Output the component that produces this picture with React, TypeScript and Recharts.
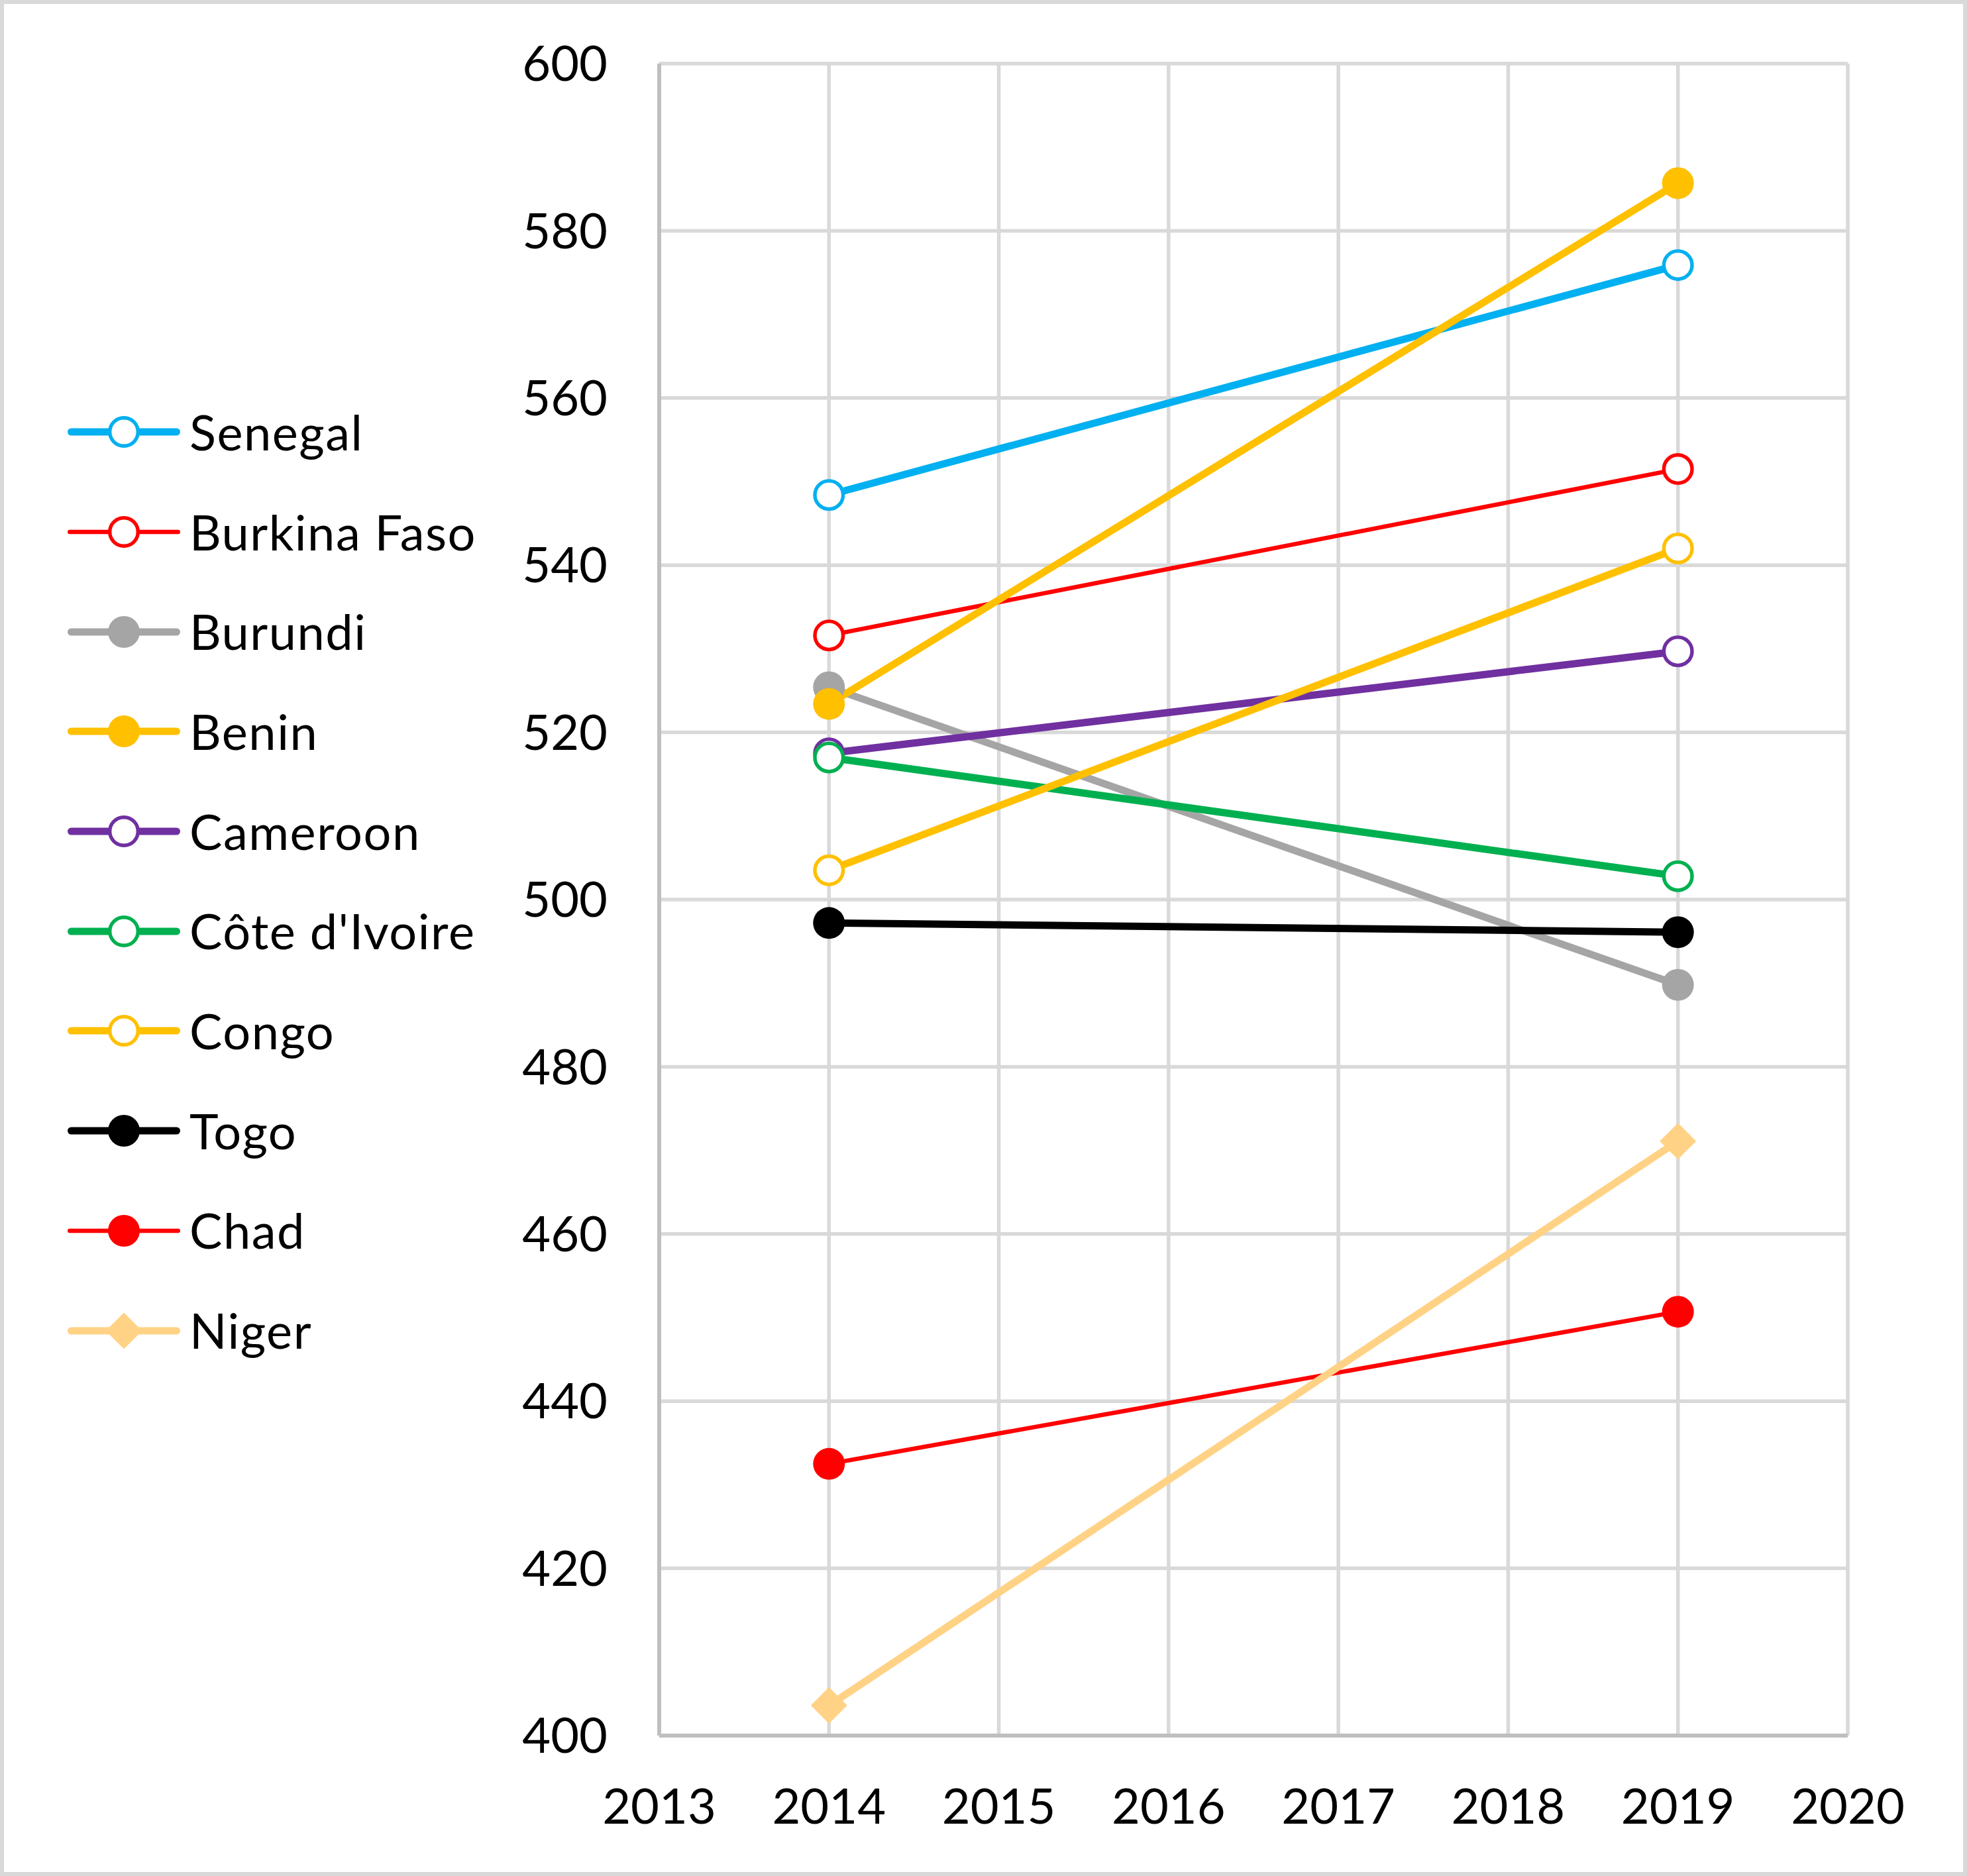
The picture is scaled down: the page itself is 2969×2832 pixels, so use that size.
import { LineChart, Line, XAxis, YAxis, CartesianGrid, Legend } from "recharts";

// values (2014 and 2019 only)
const years = [2014, 2019];
const senegal = [548.4, 575.9];
const burkinaFaso = [531.6, 551.5];
const burundi = [525.4, 489.8];
const benin = [523.4, 585.7];
const cameroon = [517.5, 529.7];
const coteDIvoire = [517.0, 502.8];
const congo = [503.5, 542.0];
const togo = [497.2, 496.1];
const chad = [432.5, 450.7];
const niger = [403.6, 471.1];

const xTicks = [2013, 2014, 2015, 2016, 2017, 2018, 2019, 2020];
const yTicks = [400, 420, 440, 460, 480, 500, 520, 540, 560, 580, 600];

type Marker = "open" | "filled" | "diamond";
type Series = { name: string; values: number[]; color: string; width: number; marker: Marker };

const series: Series[] = [
  { name: "Senegal", values: senegal, color: "#00B0F0", width: 11, marker: "open" },
  { name: "Burkina Faso", values: burkinaFaso, color: "#FF0000", width: 6.5, marker: "open" },
  { name: "Burundi", values: burundi, color: "#A5A5A5", width: 11, marker: "filled" },
  { name: "Benin", values: benin, color: "#FFC000", width: 11, marker: "filled" },
  { name: "Cameroon", values: cameroon, color: "#7030A0", width: 11, marker: "open" },
  { name: "Côte d'Ivoire", values: coteDIvoire, color: "#00B050", width: 11, marker: "open" },
  { name: "Congo", values: congo, color: "#FFC000", width: 11, marker: "open" },
  { name: "Togo", values: togo, color: "#000000", width: 11, marker: "filled" },
  { name: "Chad", values: chad, color: "#FF0000", width: 6.5, marker: "filled" },
  { name: "Niger", values: niger, color: "#FFD285", width: 11, marker: "diamond" },
];

const data = years.map((year, i) => {
  const row: Record<string, number> = { year };
  series.forEach((s) => (row[s.name] = s.values[i]));
  return row;
});

const FONT = "Lato, 'Open Sans', sans-serif";
const TEXT_SIZE = 74;
const GRID = "#D9D9D9";
const AXIS = "#BFBFBF";

function markerShape(s: Series, cx: number, cy: number, key?: string) {
  if (s.marker === "diamond") {
    const h = 26;
    return (
      <path
        key={key}
        d={`M${cx},${cy - h} L${cx + h},${cy} L${cx},${cy + h} L${cx - h},${cy} Z`}
        fill={s.color}
        stroke={s.color}
        strokeWidth={2}
        strokeLinejoin="round"
      />
    );
  }
  if (s.marker === "open") {
    return <circle key={key} cx={cx} cy={cy} r={21.3} fill="#fff" stroke={s.color} strokeWidth={5.4} />;
  }
  return <circle key={key} cx={cx} cy={cy} r={24} fill={s.color} stroke="none" />;
}

const renderDot = (s: Series) => (props: any) => {
  const { cx, cy, index } = props;
  const key = `${s.name}-${index}`;
  if (cx == null || cy == null) return <g key={key} />;
  return markerShape(s, cx, cy, key);
};

const renderLegend = () => (
  <div style={{ fontFamily: FONT }}>
    {series.map((s) => (
      <div key={s.name} style={{ display: "flex", alignItems: "center", height: 150.7 }}>
        <svg width={170} height={60} style={{ flex: "none", overflow: "visible" }}>
          <line
            x1={s.width / 2}
            x2={170 - s.width / 2}
            y1={30}
            y2={30}
            stroke={s.color}
            strokeWidth={s.width}
            strokeLinecap="round"
          />
          {markerShape(s, 85, 30)}
        </svg>
        <span
          style={{
            marginLeft: 14,
            fontSize: TEXT_SIZE,
            lineHeight: 1.2,
            letterSpacing: 1.5,
            color: "#000",
            whiteSpace: "nowrap",
          }}
        >
          {s.name}
        </span>
      </div>
    ))}
  </div>
);

export default function App() {
  return (
    <div style={{ position: "absolute", left: 0, top: 0, width: 2969, height: 2832, background: "#fff", fontFamily: FONT }}>
      <LineChart width={2969} height={2832} data={data} margin={{ top: 96, right: 180, left: 795, bottom: 62 }}>
        <CartesianGrid stroke={GRID} strokeWidth={5.5} ticks={yTicks} />
        <XAxis
          dataKey="year"
          type="number"
          domain={[2013, 2020]}
          ticks={xTicks}
          interval={0}
          height={150}
          tickLine={false}
          tickSize={0}
          tickMargin={80}
          axisLine={{ stroke: AXIS, strokeWidth: 6 }}
          tick={{ fill: "#000", fontSize: TEXT_SIZE, fontFamily: FONT }}
        />
        <YAxis
          type="number"
          domain={[400, 600]}
          ticks={yTicks}
          interval={0}
          width={200}
          tickLine={false}
          tickSize={0}
          tickMargin={78}
          axisLine={{ stroke: AXIS, strokeWidth: 6 }}
          tick={{ fill: "#000", fontSize: TEXT_SIZE, fontFamily: FONT }}
        />
        <Legend
          layout="vertical"
          align="center"
          verticalAlign="middle"
          content={renderLegend}
          wrapperStyle={{ left: 102, top: 577, width: 700, height: 1510 }}
        />
        {series.map((s) => (
          <Line
            key={s.name}
            type="linear"
            dataKey={s.name}
            name={s.name}
            stroke={s.color}
            strokeWidth={s.width}
            strokeLinecap="round"
            strokeLinejoin="round"
            dot={renderDot(s)}
            activeDot={false}
            isAnimationActive={false}
          />
        ))}
      </LineChart>
      <div
        style={{
          position: "absolute",
          inset: 0,
          border: `6px solid ${GRID}`,
          boxSizing: "border-box",
          pointerEvents: "none",
        }}
      />
    </div>
  );
}
